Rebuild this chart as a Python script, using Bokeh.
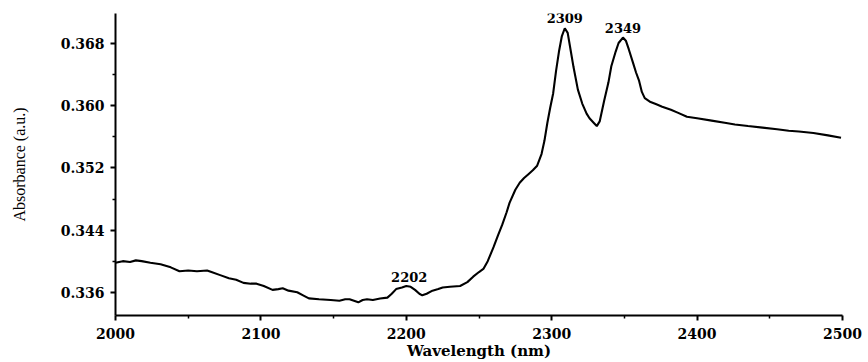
import numpy as np
from bokeh.plotting import figure
from bokeh.models import FixedTicker, Range1d, ColumnDataSource, NumeralTickFormatter
from bokeh.core.properties import value
from bokeh.embed import file_html
from bokeh.resources import INLINE

wavelength = [2000, 2005, 2010, 2014, 2018, 2024, 2031, 2038, 2044, 2050, 2056, 2063, 2066,
              2072, 2078, 2083, 2088, 2093, 2097, 2102, 2108, 2112, 2115, 2119, 2125, 2129,
              2133, 2140, 2148, 2154, 2158, 2161, 2164, 2167, 2170, 2173, 2177, 2182, 2187,
              2190, 2193, 2197, 2200, 2203, 2206, 2209, 2211, 2214, 2218, 2222, 2225, 2230,
              2237, 2242, 2246, 2250, 2253, 2256, 2260, 2263, 2266, 2269, 2271, 2275, 2278,
              2281, 2284, 2287, 2290, 2293, 2295, 2297, 2299, 2301, 2303, 2305, 2307, 2309,
              2311, 2313, 2315, 2318, 2321, 2324, 2326, 2329, 2331, 2333, 2336, 2339, 2341,
              2344, 2346, 2349, 2351, 2353, 2356, 2358, 2360, 2362, 2364, 2368, 2372, 2376,
              2382, 2387, 2393, 2400, 2410, 2420, 2426, 2435, 2445, 2455, 2463, 2470, 2480,
              2490, 2499]
absorbance = [0.3398, 0.3400, 0.3399, 0.3401, 0.3400, 0.3398, 0.3396, 0.3392, 0.3387, 0.3388,
              0.3387, 0.3388, 0.3386, 0.3382, 0.3378, 0.3376, 0.3372, 0.3371, 0.3371, 0.3368,
              0.3363, 0.3364, 0.3365, 0.3362, 0.3360, 0.3356, 0.3352, 0.3351, 0.3350, 0.3349,
              0.3351, 0.3351, 0.3349, 0.3347, 0.3350, 0.3351, 0.3350, 0.3352, 0.3353, 0.3358,
              0.3364, 0.3366, 0.3368, 0.3367, 0.3363, 0.3358, 0.3356, 0.3358, 0.3362, 0.3364,
              0.3366, 0.3367, 0.3368, 0.3373, 0.3380, 0.3386, 0.3390, 0.3400, 0.3418, 0.3433,
              0.3447, 0.3463, 0.3475, 0.3492, 0.3501, 0.3507, 0.3512, 0.3517, 0.3523, 0.3538,
              0.3555, 0.3578, 0.3598, 0.3616, 0.3645, 0.3670, 0.3690, 0.3700, 0.3694, 0.3672,
              0.3650, 0.3621, 0.3603, 0.3590, 0.3584, 0.3578, 0.3574, 0.3580, 0.3606, 0.3630,
              0.3651, 0.3670, 0.3681, 0.3688, 0.3684, 0.3673, 0.3655, 0.3643, 0.3633, 0.3618,
              0.3610, 0.3605, 0.3602, 0.3599, 0.3595, 0.3591, 0.3586, 0.3584, 0.3581, 0.3578,
              0.3576, 0.3574, 0.3572, 0.3570, 0.3568, 0.3567, 0.3565, 0.3562, 0.3559]

peak_wavelengths = [2202, 2309, 2349]
peak_texts = ["2202", "2309", "2349"]

x_ticks = [2000, 2100, 2200, 2300, 2400, 2500]
x_minor_ticks = [2050, 2150, 2250, 2350, 2450]
y_ticks = [0.336, 0.344, 0.352, 0.360, 0.368]
y_minor_ticks = [0.340, 0.348, 0.356, 0.364]

x_title = "Wavelength (nm)"
y_title = "Absorbance (a.u.)"

p = figure(width=868, height=362, output_backend="svg", toolbar_location=None,
           x_range=Range1d(2000, 2500), y_range=Range1d(0.3330, 0.3719),
           min_border_left=115, min_border_right=26, min_border_top=13, min_border_bottom=45)
p.outline_line_color = None
p.grid.visible = False
p.background_fill_color = "white"
p.border_fill_color = "white"

p.line(wavelength, absorbance, line_color="black", line_width=2.1)

peak_y = list(np.interp(peak_wavelengths, wavelength, absorbance))
src = ColumnDataSource(dict(x=peak_wavelengths, y=peak_y, t=peak_texts))
p.text(x="x", y="y", text="t", source=src, text_align="center", text_baseline="middle",
       y_offset=-10, text_font=value("DejaVu Serif"), text_font_style="bold",
       text_font_size="13px", text_color="black")

for ax in (p.xaxis, p.yaxis):
    ax.axis_line_width = 2
    ax.axis_line_color = "black"
    ax.major_tick_line_width = 2
    ax.minor_tick_line_width = 1.5
    ax.major_tick_out = 5
    ax.major_tick_in = 0
    ax.minor_tick_out = 3
    ax.minor_tick_in = 0
    ax.major_label_text_font = "DejaVu Serif"
    ax.major_label_text_font_style = "bold"
    ax.major_label_text_font_size = "14px"
    ax.major_label_text_color = "black"
    ax.axis_label_text_color = "black"

p.xaxis.ticker = FixedTicker(ticks=x_ticks, minor_ticks=x_minor_ticks)
p.yaxis.ticker = FixedTicker(ticks=y_ticks, minor_ticks=y_minor_ticks)
p.yaxis.formatter = NumeralTickFormatter(format="0.000")
p.xaxis.major_label_standoff = 7
p.yaxis.major_label_standoff = 6

p.yaxis.axis_label = y_title
p.yaxis.axis_label_text_font = "Liberation Serif"
p.yaxis.axis_label_text_font_style = "normal"
p.yaxis.axis_label_text_font_size = "16px"
p.yaxis.axis_label_standoff = 30

p.xaxis.axis_label = x_title
p.xaxis.axis_label_text_font = "DejaVu Serif"
p.xaxis.axis_label_text_font_style = "bold"
p.xaxis.axis_label_text_font_size = "15px"
p.xaxis.axis_label_standoff = 0

open("out.html", "w").write(file_html(p, INLINE))
